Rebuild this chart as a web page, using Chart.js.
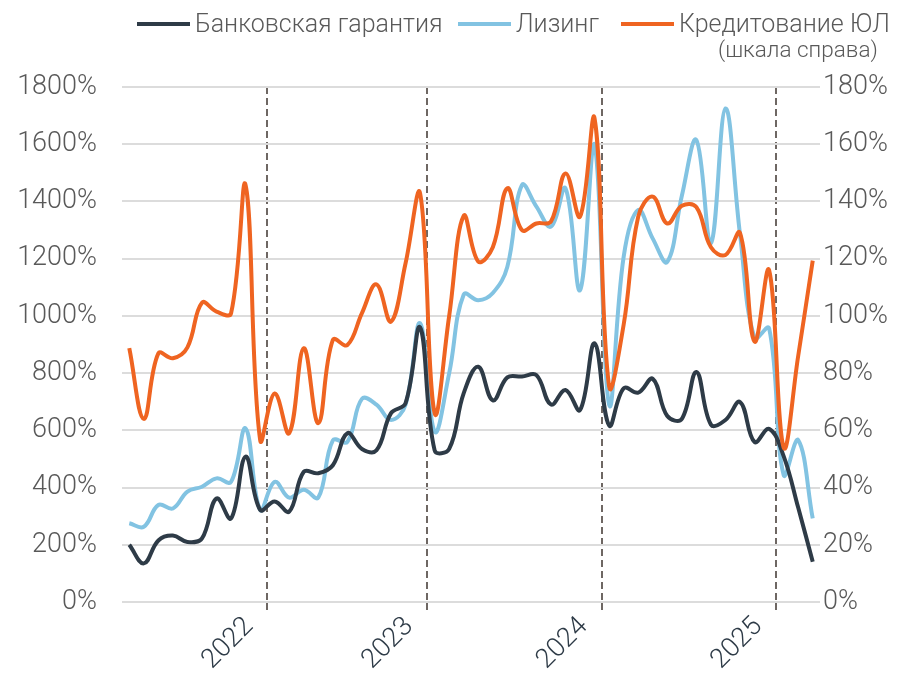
<!DOCTYPE html>
<html lang="ru">
<head>
<meta charset="utf-8">
<title>Банковская гарантия, лизинг, кредитование ЮЛ</title>
<script src="https://cdn.jsdelivr.net/npm/chart.js@4.4.1/dist/chart.umd.min.js"></script>
<style>
    body { margin: 0; background: #fff; }
    #wrap { position: relative; width: 918px; height: 676px; }
    #legend { position: absolute; top: 0; left: 0; width: 918px; height: 70px;
              font-family: Roboto, "Liberation Sans", sans-serif; font-weight: 300;
              font-size: 25px; color: #595959; }
    .item { position: absolute; top: 9px; display: flex; align-items: center; white-space: nowrap; }
    .swatch { display: inline-block; width: 53px; height: 4px; margin-right: 5px; }
    .note { position: absolute; top: 36px; left: 718px; font-size: 22.5px; }
</style>
</head>
<body>
<div id="wrap">
    <canvas id="chartCanvas"></canvas>
    <div id="legend"></div>
</div>
<script>
// Series, monthly, Mar 2021 - Mar 2025 (one month missing in 2022)
const guarantee = [200, 135, 215, 232, 210, 222, 362, 292, 508, 322,
    351, 316, 455, 450, 478, 590, 535, 530, 660, 695, 960,
    530, 535, 730, 822, 705, 785, 788, 793, 690, 741, 671, 904,
    617, 747, 732, 780, 650, 640, 804, 620, 636, 699, 559, 605,
    510, 330, 141];
const leasing = [275, 263, 339, 327, 386, 403, 432, 420, 607, 322,
    420, 365, 392, 365, 565, 560, 710, 690, 636, 690, 974,
    595, 800, 1075, 1055, 1080, 1172, 1457, 1382, 1312, 1446, 1090, 1597,
    689, 1207, 1370, 1270, 1189, 1420, 1615, 1254, 1725, 1285, 922, 957,
    444, 566, 292];
// right-hand scale
const corpLoans = [88.7, 64, 86.9, 85.2, 89, 104.6, 101.5, 100.9, 145.7, 56.6,
    72.9, 59, 88.7, 62.5, 91.6, 89.8, 101, 111, 98, 118.4, 142.8,
    66, 100, 135, 119, 124, 144.6, 130, 132.3, 133, 149.8, 134.7, 169,
    75.3, 97, 134.7, 141.7, 132.3, 138.5, 138, 124, 121.3, 129, 91, 116,
    54, 86, 119.3];

// index of the first point of each year and its label
const yearStarts = [10, 21, 33, 45];
const yearLabels = ['2022', '2023', '2024', '2025'];

const seriesNames = ['Банковская гарантия', 'Лизинг', 'Кредитование ЮЛ'];
const seriesColors = ['#2e3b47', '#82c3e2', '#ef6421'];

const FONT = 'Roboto, "Liberation Sans", sans-serif';

function toPoints(arr) {
    return arr.map((v, i) => ({ x: i, y: v }));
}

// Legend built as html
const legend = document.getElementById('legend');
const legendLeft = [137, 458, 621];
seriesNames.forEach((name, i) => {
    const item = document.createElement('div');
    item.className = 'item';
    item.style.left = legendLeft[i] + 'px';
    item.innerHTML = '<span class="swatch" style="background:' + seriesColors[i] + '"></span>' + name;
    legend.appendChild(item);
});
const note = document.createElement('div');
note.className = 'note';
note.textContent = '(шкала справа)';
legend.appendChild(note);

const ctx = document.getElementById('chartCanvas').getContext('2d');

new Chart(ctx, {
    type: 'line',
    data: {
        datasets: [
            {
                label: seriesNames[2],
                data: toPoints(corpLoans),
                yAxisID: 'yRight',
                borderColor: seriesColors[2],
                order: 1
            },
            {
                label: seriesNames[0],
                data: toPoints(guarantee),
                yAxisID: 'y',
                borderColor: seriesColors[0],
                order: 2
            },
            {
                label: seriesNames[1],
                data: toPoints(leasing),
                yAxisID: 'y',
                borderColor: seriesColors[1],
                order: 3
            }
        ]
    },
    options: {
        responsive: true,
        maintainAspectRatio: false,
        animation: false,
        layout: { padding: { top: 87, bottom: 0, left: 0, right: 0 } },
        elements: {
            line: { borderWidth: 4, tension: 0.4, borderCapStyle: 'butt' },
            point: { radius: 0 }
        },
        plugins: {
            legend: { display: false },
            tooltip: { enabled: false }
        },
        scales: {
            x: {
                type: 'linear',
                min: -0.5,
                max: guarantee.length - 0.5,
                afterBuildTicks: function(scale) {
                    scale.ticks = yearStarts.map(v => ({ value: v - 0.5 }));
                },
                afterFit: function(scale) {
                    scale.height = 74;
                },
                grid: {
                    color: '#6e6763',
                    lineWidth: 2,
                    drawTicks: true,
                    tickLength: 8,
                    tickColor: '#6e6763',
                    tickWidth: 2
                },
                border: { display: false, dash: [7, 4] },
                ticks: {
                    autoSkip: false,
                    maxRotation: 45,
                    minRotation: 45,
                    labelOffset: -18,
                    padding: 1,
                    color: '#2e3b47',
                    font: { family: FONT, size: 27, weight: '300' },
                    callback: function(value) {
                        const k = yearStarts.indexOf(value + 0.5);
                        return k >= 0 ? yearLabels[k] : '';
                    }
                }
            },
            y: {
                position: 'left',
                min: 0,
                max: 1800,
                afterFit: function(scale) {
                    scale.width = 122;
                },
                grid: { color: '#dcdcdc', lineWidth: 2, drawTicks: false },
                border: { display: false },
                ticks: {
                    stepSize: 200,
                    padding: 25,
                    color: '#595959',
                    font: { family: FONT, size: 27, weight: '300' },
                    callback: function(value) {
                        return value + '%';
                    }
                }
            },
            yRight: {
                position: 'right',
                min: 0,
                max: 180,
                afterFit: function(scale) {
                    scale.width = 98;
                },
                grid: { display: false, drawTicks: false },
                border: { display: false },
                ticks: {
                    stepSize: 20,
                    padding: 3,
                    color: '#595959',
                    font: { family: FONT, size: 27, weight: '300' },
                    callback: function(value) {
                        return value + '%';
                    }
                }
            }
        }
    }
});
</script>
</body>
</html>
